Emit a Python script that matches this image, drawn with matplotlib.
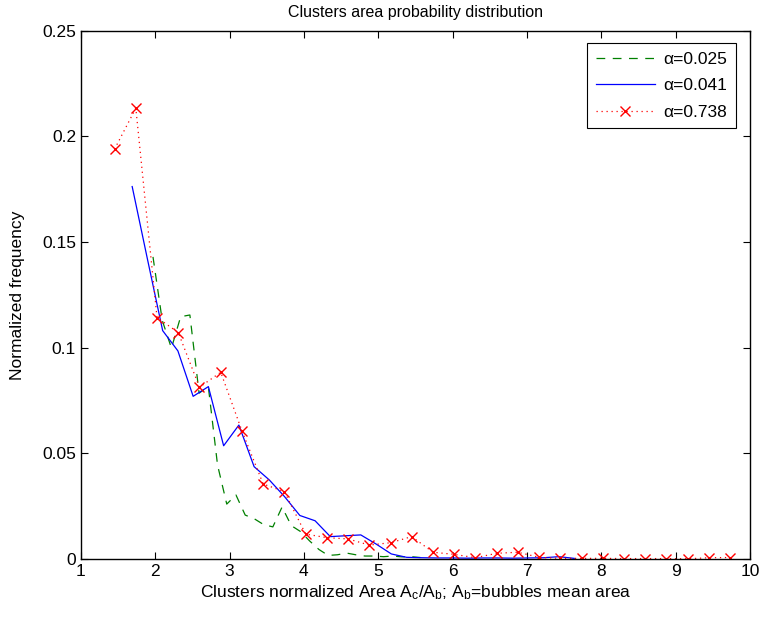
import matplotlib
matplotlib.use("Agg")
import matplotlib.pyplot as plt
import numpy as np

plt.rcParams['font.family'] = ['Liberation Sans', 'DejaVu Sans']
plt.rcParams['mathtext.fontset'] = 'custom'
plt.rcParams['mathtext.rm'] = 'Liberation Sans'
plt.rcParams['mathtext.it'] = 'Liberation Sans'

# alpha = 0.025 (green dashed)
x_g = [1.970, 2.094, 2.218, 2.342, 2.466, 2.590, 2.714, 2.838, 2.962, 3.086,
       3.210, 3.334, 3.458, 3.582, 3.706, 3.830, 3.954, 4.078, 4.202, 4.326,
       4.450, 4.574, 4.698, 4.822, 4.946, 5.070, 5.194, 5.318, 5.442, 5.566]
y_g = [0.143, 0.113, 0.0998, 0.1147, 0.1155, 0.0785, 0.0816, 0.0445, 0.026, 0.0303,
       0.0208, 0.019, 0.0163, 0.0152, 0.0246, 0.0158, 0.0130, 0.0085, 0.0045, 0.0017,
       0.0020, 0.0028, 0.0020, 0.0014, 0.0014, 0.0011, 0.0014, 0.0010, 0.0011, 0.0007]

# alpha = 0.041 (blue solid)
x_b = [1.690, 1.895, 2.100, 2.305, 2.510, 2.715, 2.920, 3.125, 3.330, 3.535,
       3.740, 3.945, 4.150, 4.355, 4.560, 4.765, 4.970, 5.175, 5.380, 5.585,
       5.790, 5.995, 6.200, 6.405, 6.610, 6.815, 7.020, 7.225, 7.430, 7.635]
y_b = [0.1763, 0.142, 0.1081, 0.0985, 0.0770, 0.0816, 0.0536, 0.0634, 0.0437, 0.0374,
       0.0295, 0.0206, 0.0181, 0.0106, 0.0110, 0.0114, 0.0071, 0.0024, 0.0008, 0.0006,
       0.0005, 0.0005, 0.0004, 0.0005, 0.0005, 0.0004, 0.0005, 0.0006, 0.0011, 0.0003]

# alpha = 0.738 (red dotted with crosses)
x_r = [1.453, 1.739, 2.024, 2.310, 2.595, 2.881, 3.166, 3.452, 3.737, 4.023,
       4.308, 4.594, 4.879, 5.165, 5.450, 5.736, 6.021, 6.307, 6.592, 6.878,
       7.163, 7.449, 7.734, 8.020, 8.305, 8.591, 8.876, 9.162, 9.447, 9.733]
y_r = [0.194, 0.2134, 0.1143, 0.1072, 0.0813, 0.0884, 0.0607, 0.0355, 0.0319, 0.0118,
       0.0101, 0.0095, 0.0066, 0.0077, 0.0106, 0.0032, 0.0022, 0.0006, 0.0027, 0.0032,
       0.0008, 0.0003, 0.0003, 0.0003, 0.0002, 0.0002, 0.0002, 0.0001, 0.0006, 0.0007]

labels = ['\u03b1=0.025', '\u03b1=0.041', '\u03b1=0.738']

fig = plt.figure(figsize=(7.63, 6.17), dpi=100)
ax = fig.add_axes([0.106, 0.094, 0.877, 0.856])

ax.plot(x_g, y_g, color='#008000', linestyle=(0, (7, 6)), lw=0.9, label=labels[0])
ax.plot(x_b, y_b, color='#0000ff', linestyle='-', lw=0.9, label=labels[1])
ax.plot(x_r, y_r, color='#ff0000', linestyle=(0, (1, 3)), lw=0.9, marker='x',
        markersize=7, markeredgewidth=1.0, label=labels[2])

ax.set_xlim(1, 10)
ax.set_ylim(0, 0.25)
ax.set_xticks(np.arange(1, 11, 1))
ax.set_yticks([0, 0.05, 0.1, 0.15, 0.2, 0.25])
ax.set_yticklabels(['0', '0.05', '0.1', '0.15', '0.2', '0.25'])
ax.tick_params(direction='in', top=True, right=True, labelsize=12.5, length=5, width=0.8)
for s in ax.spines.values():
    s.set_linewidth(1.0)

ax.set_title('Clusters area probability distribution', fontsize=11.5, pad=10)
ax.set_xlabel('Clusters normalized Area A$_c$/A$_b$; A$_b$=bubbles mean area',
              fontsize=12.5, labelpad=3)
ax.set_ylabel('Normalized frequency', fontsize=12.5, labelpad=12)

leg = ax.legend(loc='upper right', fontsize=12.5, fancybox=False, framealpha=1,
                edgecolor='black', handlelength=3.4, borderpad=0.5,
                labelspacing=0.65, handletextpad=0.5, borderaxespad=0,
                bbox_to_anchor=(0.979, 0.977))
leg.get_frame().set_linewidth(0.8)

fig.savefig('out.png', dpi=100)
